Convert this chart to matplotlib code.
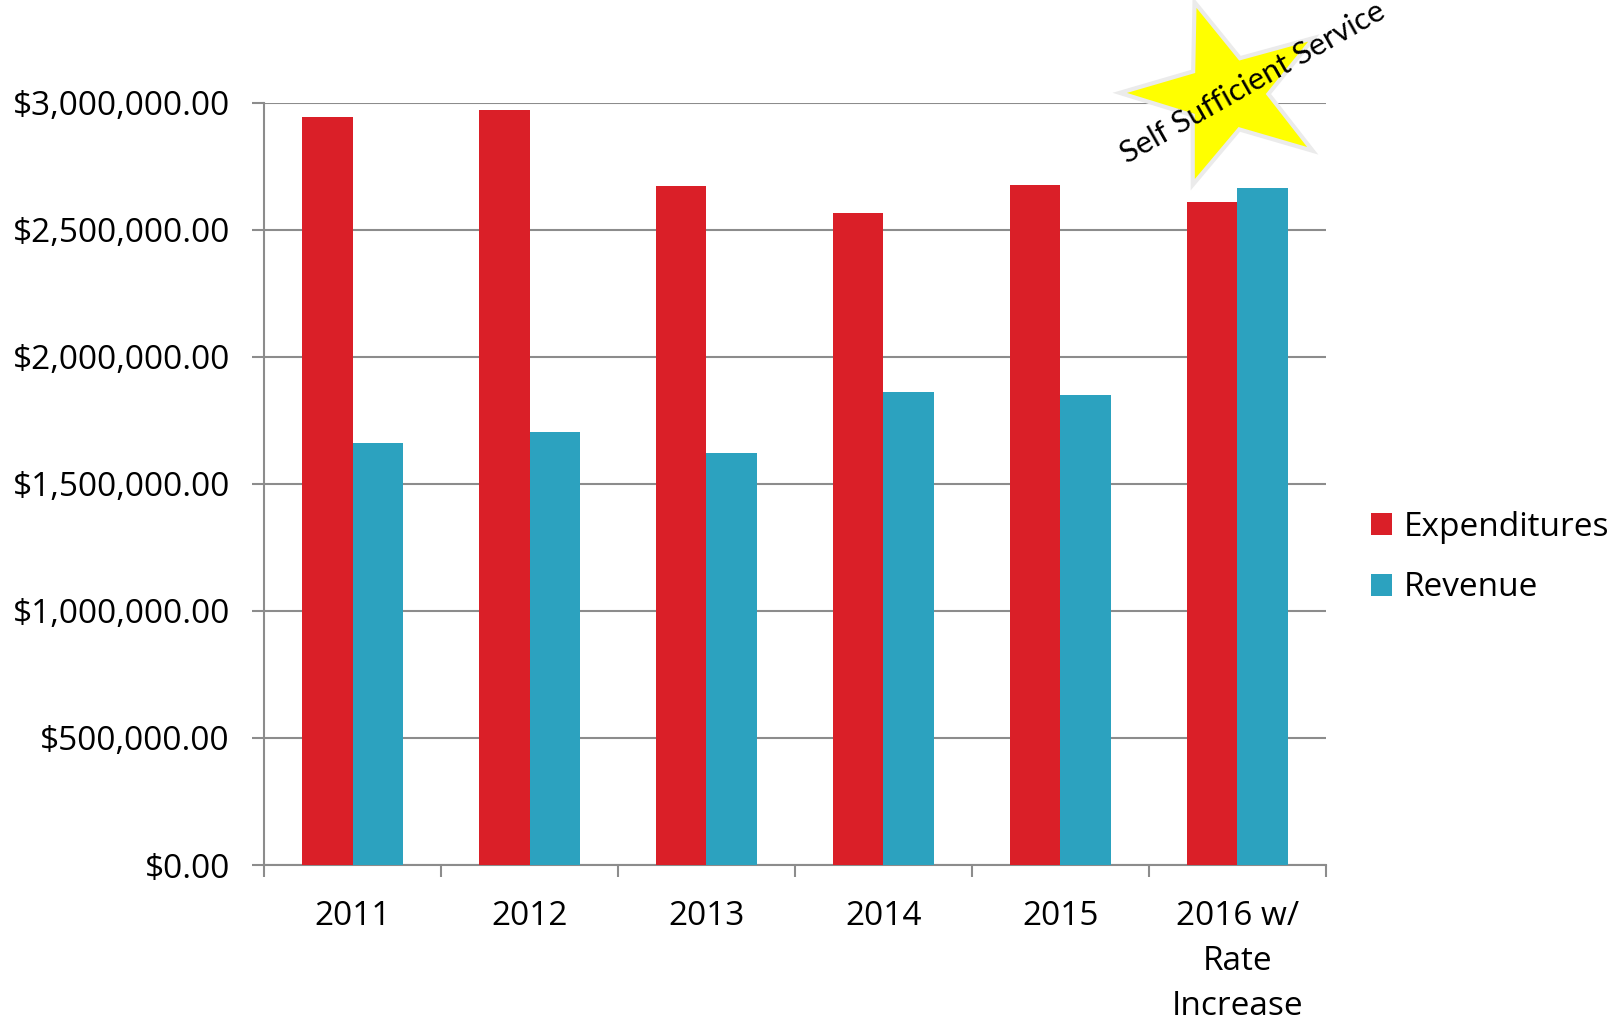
import numpy as np
import matplotlib
matplotlib.use("Agg")
import matplotlib.pyplot as plt
from matplotlib.patches import Polygon, Patch
from matplotlib.ticker import FuncFormatter, FixedLocator

categories = ["2011", "2012", "2013", "2014", "2015", "2016 w/\nRate\nIncrease"]
expenditures = [2942000, 2971000, 2671000, 2566000, 2676000, 2611000]
revenue = [1662000, 1705000, 1621000, 1861000, 1850000, 2663000]
series_names = ["Expenditures", "Revenue"]
colors = ["#DA1F28", "#2CA2BF"]
yticks = [0, 500000, 1000000, 1500000, 2000000, 2500000, 3000000]
star_label = "Self Sufficient Service"

W, H = 1613, 1021
fig = plt.figure(figsize=(W / 100, H / 100), dpi=100)
ax = fig.add_axes([264 / W, 1 - 865 / H, (1326 - 264) / W, (865 - 102.7) / H])

font = "Open Sans"
fs = 24
grid_c = "#8C8C8C"

x = np.arange(len(categories))
bw = 0.283
ax.bar(x - bw / 2, expenditures, bw, color=colors[0], zorder=3, linewidth=0)
ax.bar(x + bw / 2, revenue, bw, color=colors[1], zorder=3, linewidth=0)

ax.set_xlim(-0.5, len(categories) - 0.5)
ax.set_ylim(0, 3000000)
ax.set_yticks(yticks)
ax.yaxis.set_major_formatter(FuncFormatter(lambda v, p: "${:,.2f}".format(v)))
ax.yaxis.grid(True, color=grid_c, linewidth=1.5, zorder=0)
ax.set_axisbelow(True)

ax.set_xticks(x)
ax.set_xticklabels(categories, fontfamily=font, fontsize=fs, linespacing=1.48)
ax.xaxis.set_minor_locator(FixedLocator(np.arange(-0.5, len(categories), 1.0)))
ax.tick_params(axis="x", which="major", length=0, pad=25)
ax.tick_params(axis="x", which="minor", length=8.6, width=1.5, color=grid_c, direction="out")
ax.tick_params(axis="y", which="major", length=8.6, width=1.5, color=grid_c, direction="out", pad=16)
for lab in ax.get_yticklabels():
    lab.set_fontfamily(font)
    lab.set_fontsize(fs)

for s in ["top", "right"]:
    ax.spines[s].set_visible(False)
for s in ["left", "bottom"]:
    ax.spines[s].set_color(grid_c)
    ax.spines[s].set_linewidth(1.5)

handles = [Patch(facecolor=colors[0], edgecolor="none"), Patch(facecolor=colors[1], edgecolor="none")]
leg = ax.legend(handles, series_names, loc="center left", bbox_to_anchor=(1371 / W, 1 - 557.5 / H),
                bbox_transform=fig.transFigure, frameon=False, borderpad=0, borderaxespad=0,
                handlelength=0.64, handleheight=0.64, handletextpad=0.33, labelspacing=0.83,
                prop={"family": font, "size": fs})

# star decoration
cx, cy = 1226.7, 93.7
rx, ry = 107, 96
ri = 0.39
pts = []
for k in range(10):
    ang = np.deg2rad(107.5 + 36 * k)
    r = 1.0 if k % 2 == 0 else ri
    px = cx + rx * r * np.cos(ang)
    py = cy - ry * r * np.sin(ang)
    pts.append((px / W, 1 - py / H))
star = Polygon(pts, closed=True, facecolor="#FFFF00", edgecolor="#EBEBEB", linewidth=3,
               transform=fig.transFigure, zorder=5, joinstyle="miter")
fig.patches.append(star)
fig.text(1253 / W, 1 - 83 / H, star_label, rotation=29.5, rotation_mode="anchor",
         ha="center", va="center", fontfamily="Lato", fontsize=22.5, color="black", zorder=6)

fig.savefig("out.png", dpi=100)
